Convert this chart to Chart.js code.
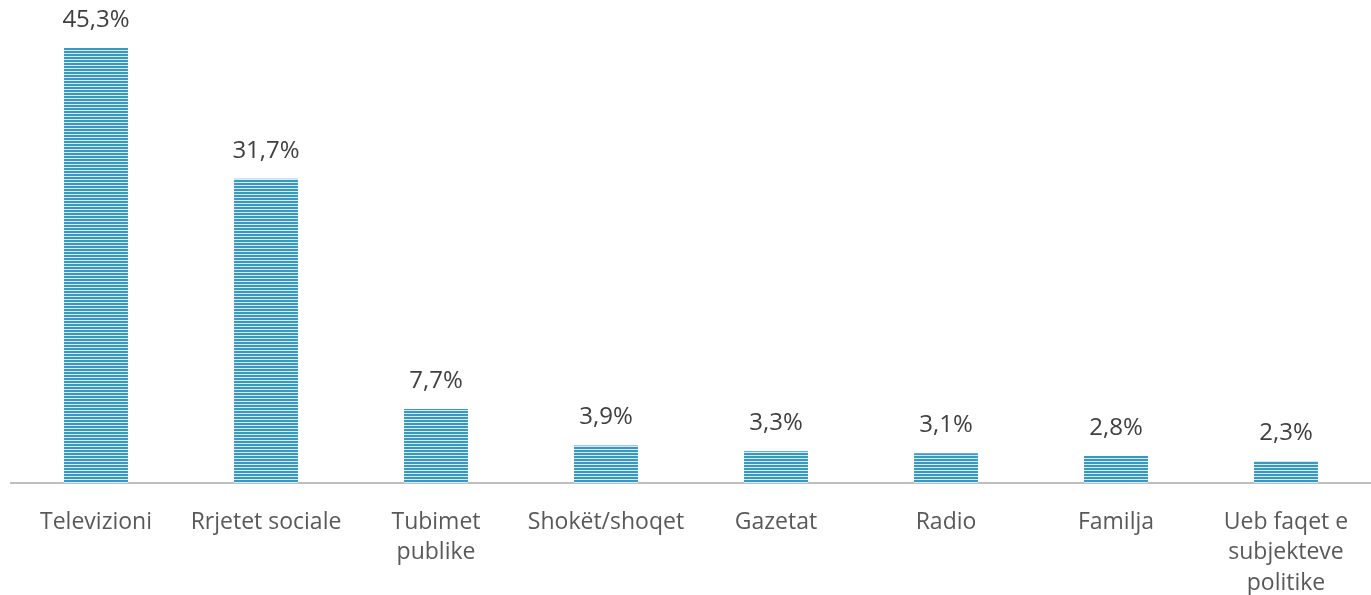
<!DOCTYPE html>
<html>
<head>
<meta charset="utf-8">
<script src="https://cdn.jsdelivr.net/npm/chart.js@4/dist/chart.umd.min.js"></script>
<style>
  html, body { margin: 0; padding: 0; background: #fff; }
  #wrap { width: 1371px; height: 595px; position: relative; }
</style>
</head>
<body>
<div id="wrap"><canvas id="mediaChart"></canvas></div>
<script>
// Data
const categories = [
  "Televizioni",
  "Rrjetet sociale",
  ["Tubimet", "publike"],
  "Shokët/shoqet",
  "Gazetat",
  "Radio",
  "Familja",
  ["Ueb faqet e", "subjekteve", "politike"],
];
const shares = [45.3, 31.7, 7.7, 3.9, 3.3, 3.1, 2.8, 2.3];

// Striped fill like the original bars
function makeStripes() {
  const c = document.createElement("canvas");
  c.width = 4;
  c.height = 3;
  const g = c.getContext("2d");
  g.fillStyle = "#d6ecf5";
  g.fillRect(0, 0, 4, 3);
  g.fillStyle = "#3898c2";
  g.fillRect(0, 0, 4, 2);
  return g.createPattern(c, "repeat");
}

// Value labels above bars ("45,3%")
const valueLabels = {
  id: "valueLabels",
  afterDatasetsDraw(chart) {
    const { ctx } = chart;
    const meta = chart.getDatasetMeta(0);
    ctx.save();
    ctx.font = "24px 'Open Sans'";
    ctx.fillStyle = "#404040";
    ctx.textAlign = "center";
    ctx.textBaseline = "middle";
    meta.data.forEach((bar, i) => {
      const txt = shares[i].toFixed(1).replace(".", ",") + "%";
      ctx.fillText(txt, bar.x, bar.y - 28);
    });
    ctx.restore();
  },
};

const ctx = document.getElementById("mediaChart").getContext("2d");
new Chart(ctx, {
  type: "bar",
  data: {
    labels: categories,
    datasets: [
      {
        data: shares,
        backgroundColor: makeStripes(),
        borderWidth: 0,
        categoryPercentage: 1,
        barPercentage: 0.376,
      },
    ],
  },
  options: {
    responsive: true,
    maintainAspectRatio: false,
    animation: false,
    layout: { padding: { left: 11, right: 0, top: 3, bottom: 0 } },
    scales: {
      y: {
        display: false,
        min: 0,
        max: 50,
      },
      x: {
        grid: { display: false },
        border: { color: "#bfbfbf", width: 2 },
        ticks: {
          color: "#595959",
          font: { family: "'Open Sans'", size: 23, lineHeight: 1.33 },
          padding: 16,
          maxRotation: 0,
          autoSkip: false,
        },
        afterFit(scale) {
          scale.height = 112;
        },
      },
    },
    plugins: {
      legend: { display: false },
      tooltip: { enabled: false },
    },
  },
  plugins: [valueLabels],
});
</script>
</body>
</html>
